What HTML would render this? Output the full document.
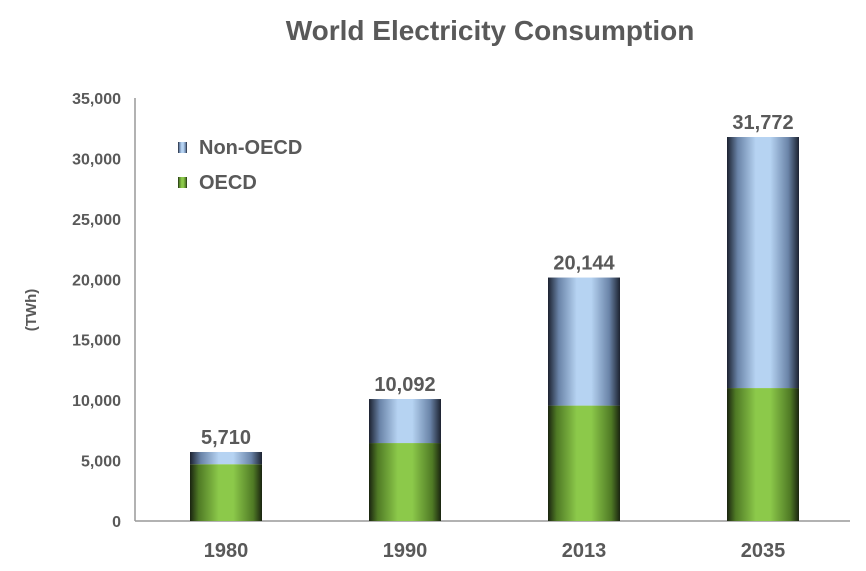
<!DOCTYPE html>
<html><head><meta charset="utf-8"><style>
body{margin:0;background:#fff;font-family:"Liberation Sans",sans-serif}
svg text{font-family:"Liberation Sans",sans-serif;font-weight:bold;fill:#595959}
</style></head><body>
<svg id="chart" width="866" height="566">
<defs>
<linearGradient id="gG" x1="0" x2="1" y1="0" y2="0">
<stop offset="0" stop-color="#1a2410"/><stop offset="0.12" stop-color="#4f7a25"/><stop offset="0.4" stop-color="#8cc94a"/><stop offset="0.6" stop-color="#8cc94a"/><stop offset="0.88" stop-color="#4f7a25"/><stop offset="1" stop-color="#1a2410"/></linearGradient>
<linearGradient id="gB" x1="0" x2="1" y1="0" y2="0">
<stop offset="0" stop-color="#1c2230"/><stop offset="0.15" stop-color="#6a84a8"/><stop offset="0.4" stop-color="#b6d3f2"/><stop offset="0.6" stop-color="#b6d3f2"/><stop offset="0.85" stop-color="#6a84a8"/><stop offset="1" stop-color="#1c2230"/></linearGradient>
</defs>
<text x="490" y="40" font-size="28" text-anchor="middle">World Electricity Consumption</text>
<text transform="translate(36,310) rotate(-90)" font-size="15" text-anchor="middle">(TWh)</text>
<line x1="135" y1="98" x2="135" y2="521" stroke="#999" stroke-width="1.5"/>
<line x1="135" y1="521" x2="850" y2="521" stroke="#999" stroke-width="1.5"/>
<g id="yt"></g><g id="bars"></g>
<rect x="178" y="142" width="9" height="11" fill="url(#gB)"/>
<text x="199" y="154" font-size="20">Non-OECD</text>
<rect x="178" y="177" width="9" height="11" fill="url(#gG)"/>
<text x="199" y="189" font-size="20">OECD</text>
</svg>
<script>
const categories=["1980","1990","2013","2035"];
const oecd=[4700,6450,9550,11000];
const totals=[5710,10092,20144,31772];
const totalLabels=["5,710","10,092","20,144","31,772"];
const yTicks=[0,5000,10000,15000,20000,25000,30000,35000];
const NS="http://www.w3.org/2000/svg";
const y=v=>521-v*(423/35000);
const xc=i=>226+i*179;
const bw=72;
function mk(t,a,p){const e=document.createElementNS(NS,t);for(const k in a)e.setAttribute(k,a[k]);p.appendChild(e);return e;}
const yt=document.getElementById('yt');
yTicks.forEach(v=>{const t=mk('text',{x:121,y:y(v)+6,'font-size':16,'text-anchor':'end'},yt);t.textContent=v.toLocaleString('en-US');

});
const g=document.getElementById('bars');
categories.forEach((c,i)=>{
const b1=mk('rect',{x:xc(i)-bw/2,y:y(oecd[i]),width:bw,height:y(0)-y(oecd[i]),fill:'url(#gG)'},g);


const b2=mk('rect',{x:xc(i)-bw/2,y:y(totals[i]),width:bw,height:y(oecd[i])-y(totals[i]),fill:'url(#gB)'},g);


const l=mk('text',{x:xc(i),y:y(totals[i])-8,'font-size':20,'text-anchor':'middle'},g);l.textContent=totalLabels[i];


const x=mk('text',{x:xc(i),y:557,'font-size':20,'text-anchor':'middle'},g);x.textContent=c;


});
</script>
</body></html>
